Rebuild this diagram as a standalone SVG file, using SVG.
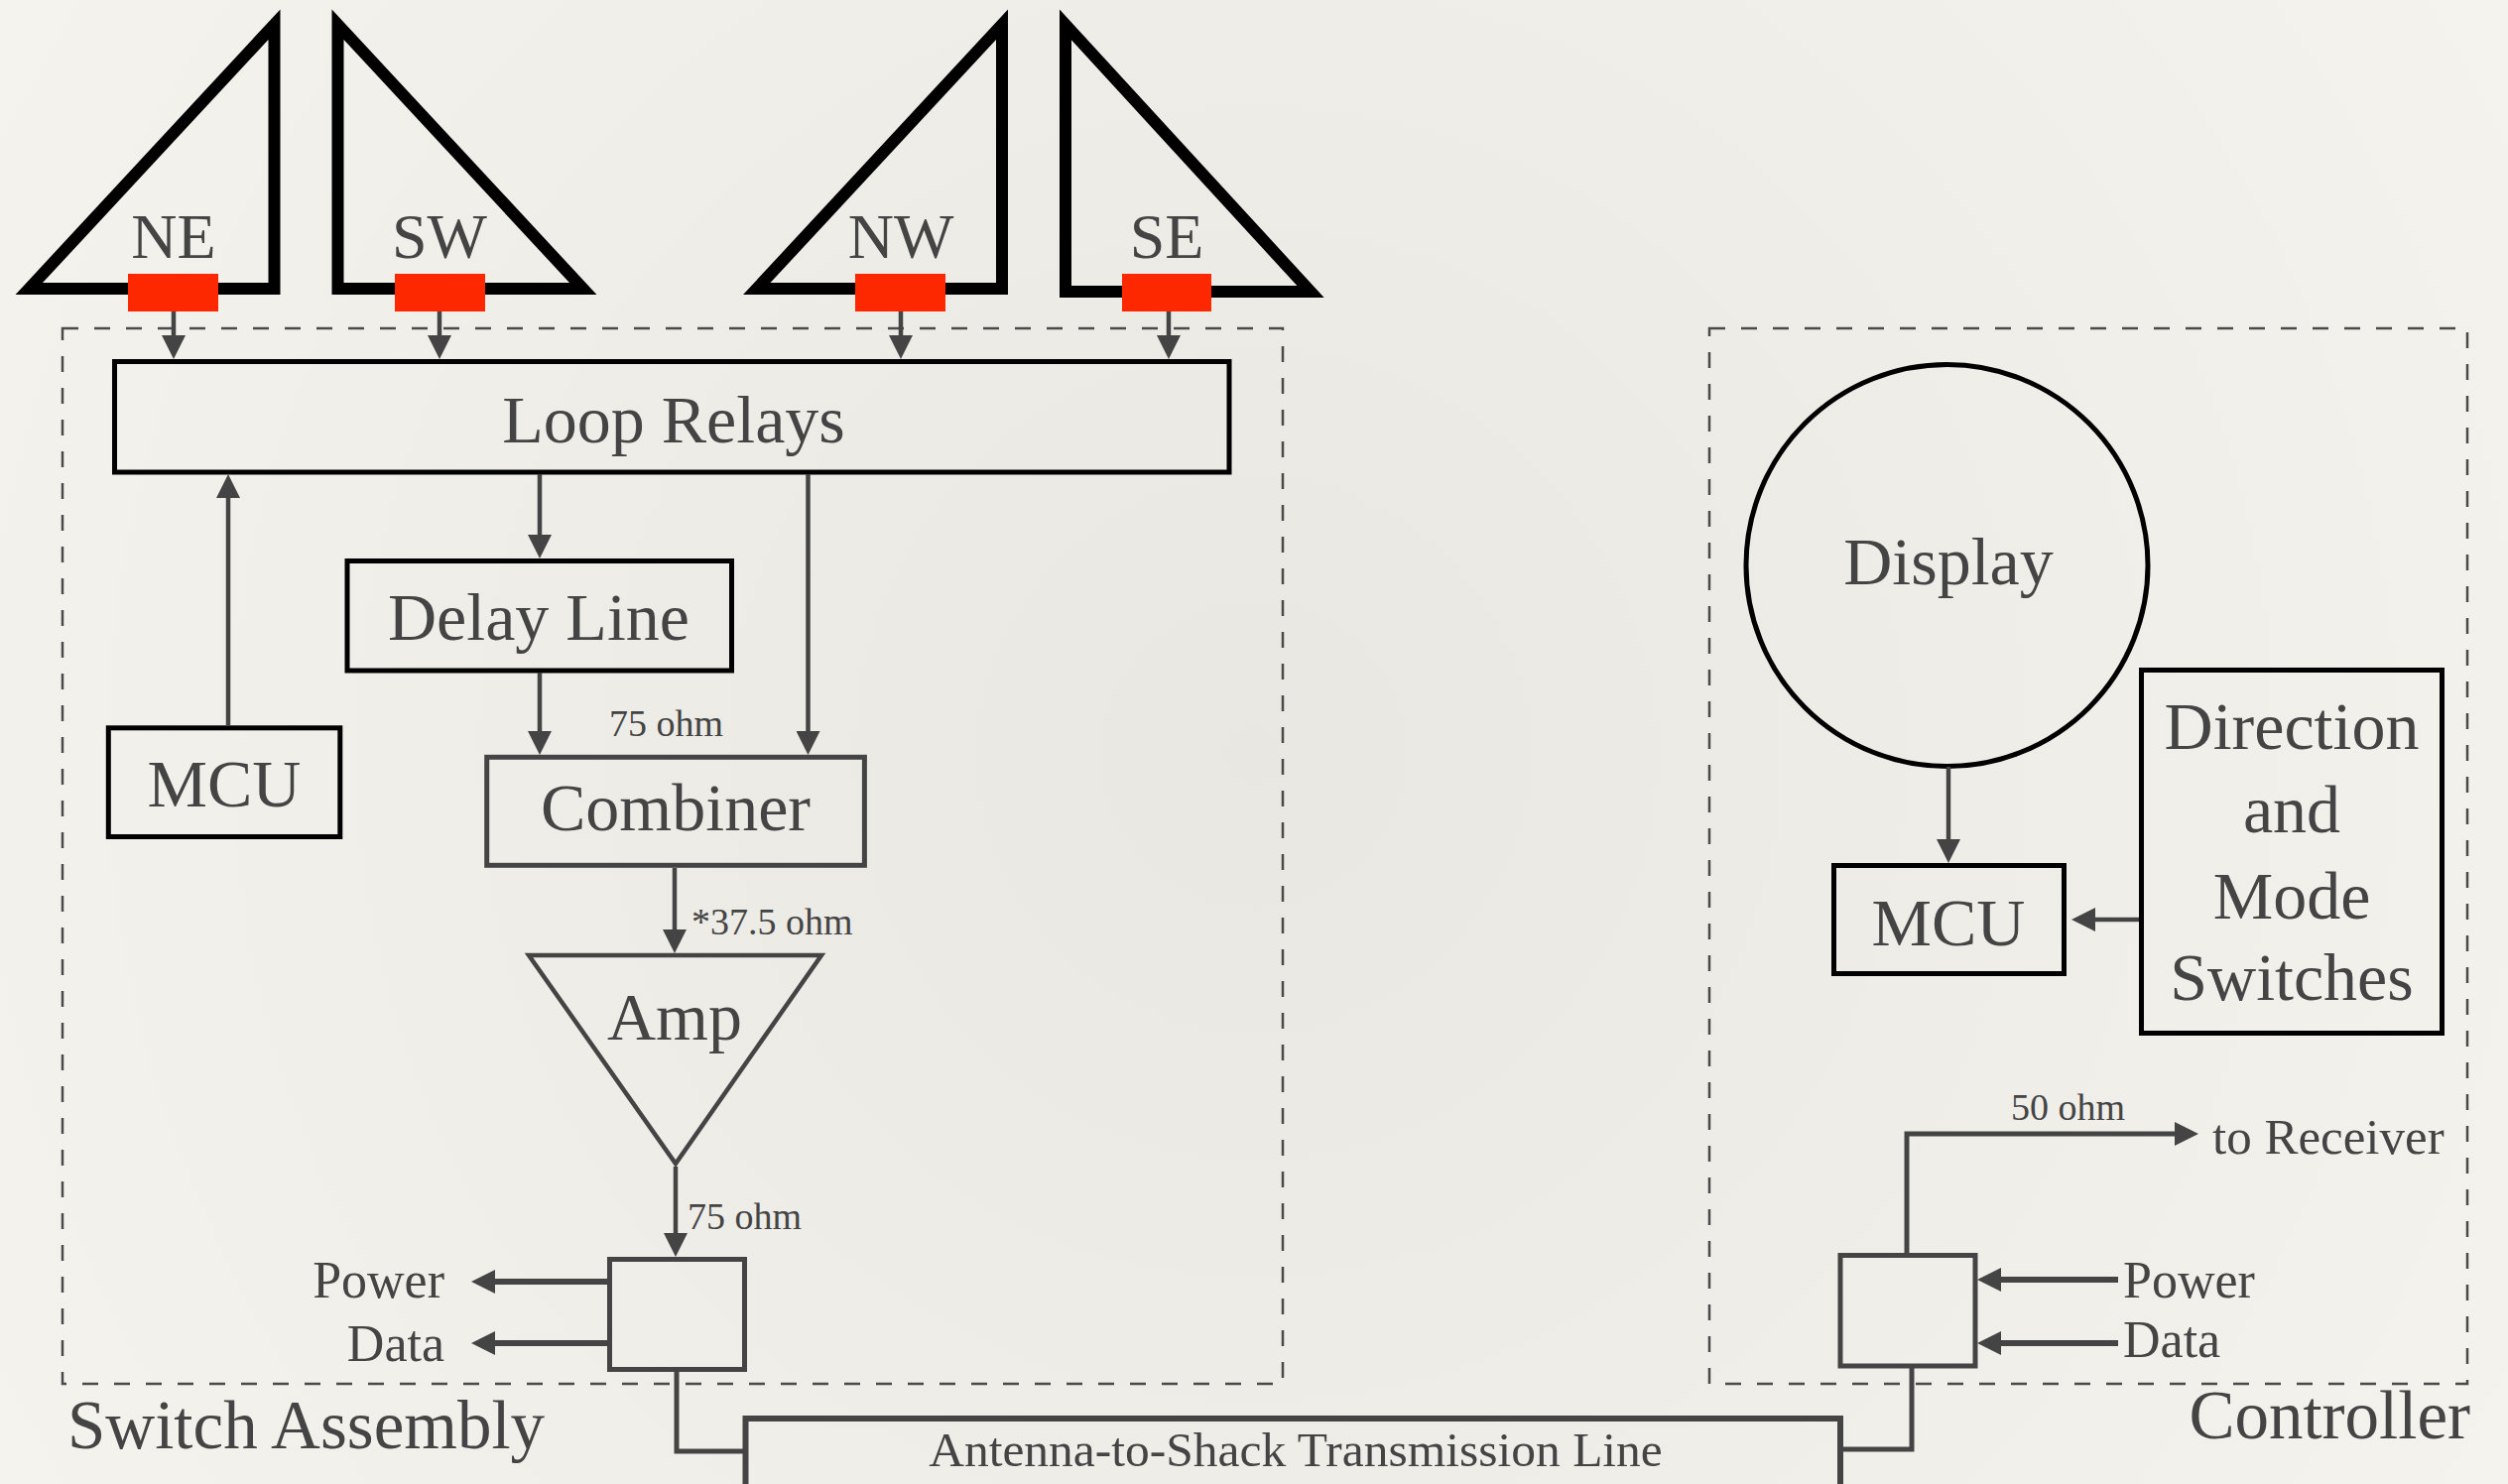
<svg xmlns="http://www.w3.org/2000/svg" width="2528" height="1496" viewBox="0 0 2528 1496">
<defs>
<radialGradient id="bg" cx="1264" cy="760" r="1500" gradientUnits="userSpaceOnUse">
<stop offset="0" stop-color="#e9e7e2"/>
<stop offset="1" stop-color="#f5f3ee"/>
</radialGradient>
<marker id="ah" viewBox="0 0 24 24" refX="12" refY="12" markerWidth="24" markerHeight="24" markerUnits="userSpaceOnUse" orient="auto">
<path d="M0,0 L24,12 L0,24 z" fill="#444"/>
</marker>
</defs>
<style>
text{font-family:"Liberation Serif","Times New Roman",serif;fill:#444}
.big{font-size:68px;text-anchor:middle}
.dir{font-size:64px;text-anchor:middle}
.small{font-size:38px}
.pd{font-size:52px}
.ant{fill:none;stroke:#000;stroke-width:12;stroke-linejoin:miter}
.red{fill:#fe2800}
.bx{fill:none;stroke:#000;stroke-width:5}
.gbx{fill:none;stroke:#444;stroke-width:5}
.dash{fill:none;stroke:#4a4a4a;stroke-width:2.5;stroke-dasharray:16 16}
.c{fill:none;stroke:#444;stroke-width:4.5}
.ca{fill:none;stroke:#444;stroke-width:4.5;marker-end:url(#ah)}
.cw{fill:none;stroke:#444;stroke-width:6;marker-end:url(#ah)}
</style>
<rect x="0" y="0" width="2528" height="1496" fill="url(#bg)"/>

<g id="switch-assembly">
<rect class="dash" x="63" y="331" width="1230" height="1064"/>
<text x="68" y="1460" style="font-size:69px">Switch Assembly</text>
</g>
<g id="controller">
<rect class="dash" x="1723" y="331" width="764" height="1064"/>
<text x="2490" y="1450" style="font-size:69px;text-anchor:end">Controller</text>
</g>

<g id="ant-NE">
<polygon class="ant" points="29.3,291 276.5,24.7 276.5,291"/>
<rect class="red" x="129" y="276" width="91" height="38"/>
<text class="dir" x="175" y="260">NE</text>
</g>
<g id="ant-SW">
<polygon class="ant" points="340.5,24.7 340.5,291 587.7,291"/>
<rect class="red" x="398" y="276" width="91" height="38"/>
<text class="dir" x="443" y="260">SW</text>
</g>
<g id="ant-NW">
<polygon class="ant" points="762.8,291 1010,24.7 1010,291"/>
<rect class="red" x="862" y="276" width="91" height="38"/>
<text class="dir" x="908" y="260">NW</text>
</g>
<g id="ant-SE">
<polygon class="ant" points="1074,25 1074,294 1321,294"/>
<rect class="red" x="1131" y="276" width="90" height="38"/>
<text class="dir" x="1176" y="260">SE</text>
</g>

<g id="loop-relays">
<rect class="bx" x="115.5" y="364.5" width="1123.5" height="111.5"/>
<text class="big" x="679" y="446">Loop Relays</text>
</g>
<g id="delay-line">
<rect class="bx" x="350" y="565.5" width="387.5" height="110.5"/>
<text class="big" x="543" y="645">Delay Line</text>
</g>
<g id="mcu-left">
<rect class="bx" x="109.3" y="733.8" width="233.5" height="109.7"/>
<text class="big" x="226" y="813">MCU</text>
</g>
<g id="combiner">
<rect class="gbx" x="490.7" y="763.3" width="380.7" height="109"/>
<text class="big" x="681" y="837">Combiner</text>
</g>
<g id="amp">
<polygon class="gbx" points="533,963 828,963 681,1173" style="stroke-width:4.5"/>
<text class="big" x="680" y="1048">Amp</text>
</g>
<g id="switch-box">
<rect class="gbx" x="614.5" y="1269.5" width="136" height="111"/>
</g>
<g id="transmission-line">
<rect class="gbx" x="751.5" y="1430" width="1103.5" height="110" style="stroke-width:6"/>
<text x="1306" y="1478" style="font-size:49.5px;text-anchor:middle">Antenna-to-Shack Transmission Line</text>
</g>

<g id="display">
<circle class="bx" cx="1962.5" cy="570" r="202.5"/>
<text class="big" x="1964" y="589">Display</text>
</g>
<g id="mcu-right">
<rect class="bx" x="1848.5" y="872.5" width="232" height="109"/>
<text class="big" x="1964" y="953">MCU</text>
</g>
<g id="switches">
<rect class="bx" x="2158.5" y="675.5" width="303" height="366"/>
<text class="big" x="2310" y="755">Direction</text>
<text class="big" x="2310" y="839">and</text>
<text class="big" x="2310" y="926">Mode</text>
<text class="big" x="2310" y="1008">Switches</text>
</g>
<g id="controller-box">
<rect class="gbx" x="1855" y="1265.5" width="136" height="111.5"/>
</g>

<g id="connectors">
<path class="ca" d="M175,314 V350"/>
<path class="ca" d="M443,314 V350"/>
<path class="ca" d="M908,314 V350"/>
<path class="ca" d="M1178,314 V350"/>
<path class="ca" d="M230,731 V490"/>
<path class="ca" d="M544,478 V551"/>
<path class="ca" d="M814.5,478 V749"/>
<path class="ca" d="M544,678 V749"/>
<path class="ca" d="M680,875 V949"/>
<path class="ca" d="M681,1176 V1255"/>
<path class="cw" d="M612,1292 H487"/>
<path class="cw" d="M612,1354 H487"/>
<path class="c" d="M682,1383 V1463 H749" style="stroke-width:5"/>
<path class="c" d="M1927,1379 V1461 H1858" style="stroke-width:5"/>
<path class="ca" d="M1964,773 V858"/>
<path class="ca" d="M2156,927 H2100"/>
<path class="ca" d="M1922,1263 V1143 H2204" style="stroke-width:5"/>
<path class="cw" d="M2135,1290 H2005"/>
<path class="cw" d="M2135,1354 H2005"/>
<text class="small" x="614" y="742">75 ohm</text>
<text class="small" x="697" y="942">*37.5 ohm</text>
<text class="small" x="693" y="1239">75 ohm</text>
<text class="small" x="2027" y="1129">50 ohm</text>
<text class="pd" x="448" y="1308" style="text-anchor:end">Power</text>
<text class="pd" x="448" y="1372" style="text-anchor:end">Data</text>
<text class="pd" x="2140" y="1308">Power</text>
<text class="pd" x="2140" y="1368">Data</text>
<text class="pd" x="2230" y="1163" style="font-size:51px">to Receiver</text>
</g>
</svg>
